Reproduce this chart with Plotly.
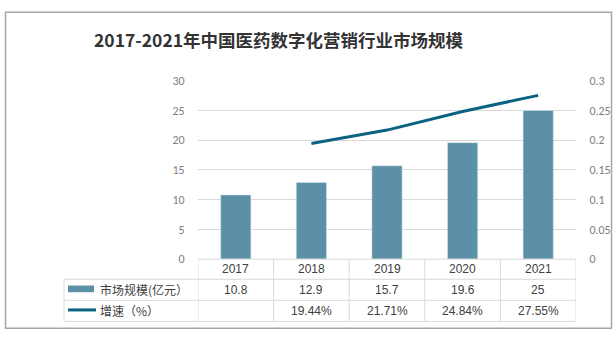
import plotly.graph_objects as go

# Data
years = ["2017", "2018", "2019", "2020", "2021"]
market_size = [10.8, 12.9, 15.7, 19.6, 25]
growth = [None, 0.1944, 0.2171, 0.2484, 0.2755]
growth_labels = ["", "19.44%", "21.71%", "24.84%", "27.55%"]
size_labels = ["10.8", "12.9", "15.7", "19.6", "25"]
series_names = ["市场规模(亿元）", "增速（%）"]
title_text = "2017-2021年中国医药数字化营销行业市场规模"

W, H = 615, 339
BAR_COLOR = "#5B90A7"
LINE_COLOR = "#0B6283"
GRID = "#D9D9D9"
TICK_FONT = dict(family="Calibri, Carlito, 'Liberation Sans', 'Noto Sans CJK SC'", size=12, color="#808080")
CELL_FONT = dict(family="'Liberation Sans', 'Noto Sans CJK SC'", size=12, color="#404040")


def px(x):
    return x / W


def py(y):
    return 1 - y / H


# Plot area in pixels
X0, X1 = 198, 576
Y_TOP, Y_BOT = 77, 263
# Data table rows (pixel y)
ROW = [263, 284, 306, 328]
TABLE_LEFT = 64

fig = go.Figure()
fig.add_trace(go.Bar(x=years, y=market_size, marker_color=BAR_COLOR, width=0.4,
                     name=series_names[0], yaxis="y"))
fig.add_trace(go.Scatter(x=years, y=growth, mode="lines", line=dict(color=LINE_COLOR, width=3),
                         name=series_names[1], yaxis="y2", connectgaps=False))

shapes = []
line_style = dict(color=GRID, width=1)

# Table horizontal lines
shapes.append(dict(type="line", xref="paper", yref="paper", x0=px(X0), x1=px(X1),
                   y0=py(ROW[0]), y1=py(ROW[0]), line=line_style))
for r in ROW[1:]:
    shapes.append(dict(type="line", xref="paper", yref="paper", x0=px(TABLE_LEFT), x1=px(X1),
                       y0=py(r), y1=py(r), line=line_style))
# Table vertical lines at category boundaries
for i in range(len(years) + 1):
    shapes.append(dict(type="line", xref="x", yref="paper", x0=i - 0.5, x1=i - 0.5,
                       y0=py(ROW[0]), y1=py(ROW[3]), line=line_style))
shapes.append(dict(type="line", xref="paper", yref="paper", x0=px(TABLE_LEFT), x1=px(TABLE_LEFT),
                   y0=py(ROW[1]), y1=py(ROW[3]), line=line_style))

# Legend keys inside the table
shapes.append(dict(type="rect", xref="paper", yref="paper", x0=px(68), x1=px(94),
                   y0=py(297.5), y1=py(290.5), fillcolor=BAR_COLOR, line=dict(width=0)))
shapes.append(dict(type="line", xref="paper", yref="paper", x0=px(68), x1=px(96),
                   y0=py(316), y1=py(316), line=dict(color=LINE_COLOR, width=3)))

# Outer chart border
shapes.append(dict(type="rect", xref="paper", yref="paper", x0=px(5.5), x1=px(611.5),
                   y0=py(335), y1=py(5.5), line=dict(color="#A6A6A6", width=1.5),
                   fillcolor="rgba(0,0,0,0)"))

annotations = [dict(text=title_text, xref="paper", yref="paper", x=px(279), y=py(34),
                    showarrow=False, xanchor="center", yanchor="middle",
                    font=dict(family="'Noto Sans CJK SC', 'Noto Sans'", size=17.5, color="#333333",
                              weight="bold"))]

row_centers = [(ROW[i] + ROW[i + 1]) / 2 for i in range(3)]
for i, yr in enumerate(years):
    for text, yc in zip([yr, size_labels[i], growth_labels[i]], row_centers):
        if text:
            annotations.append(dict(text=text, xref="x", yref="paper", x=i, y=py(yc),
                                    showarrow=False, xanchor="center", yanchor="middle",
                                    font=CELL_FONT))
for name, yc in zip(series_names, row_centers[1:]):
    annotations.append(dict(text=name, xref="paper", yref="paper", x=px(98), y=py(yc),
                            showarrow=False, xanchor="left", yanchor="middle",
                            font=dict(family="'Noto Sans CJK SC'", size=12, color="#404040")))

fig.update_layout(
    width=W, height=H, autosize=False,
    margin=dict(l=0, r=0, t=0, b=0),
    paper_bgcolor="white", plot_bgcolor="white",
    showlegend=False, bargap=0.6,
    xaxis=dict(domain=[px(X0), px(X1)], type="category", range=[-0.5, 4.5],
               showticklabels=False, showgrid=False, zeroline=False,
               showline=False, ticks=""),
    yaxis=dict(domain=[py(Y_BOT), py(Y_TOP)], range=[0, 30], dtick=5,
               showgrid=True, gridcolor=GRID, gridwidth=1, zeroline=False,
               showline=False, ticks="outside", ticklen=10, tickcolor="rgba(0,0,0,0)",
               tickfont=TICK_FONT),
    yaxis2=dict(overlaying="y", side="right", range=[0, 0.3], dtick=0.05,
                showgrid=False, zeroline=False, showline=False,
                ticks="outside", ticklen=10, tickcolor="rgba(0,0,0,0)",
                tickfont=TICK_FONT),
    shapes=shapes,
    annotations=annotations,
)

fig.write_html("out.html")
